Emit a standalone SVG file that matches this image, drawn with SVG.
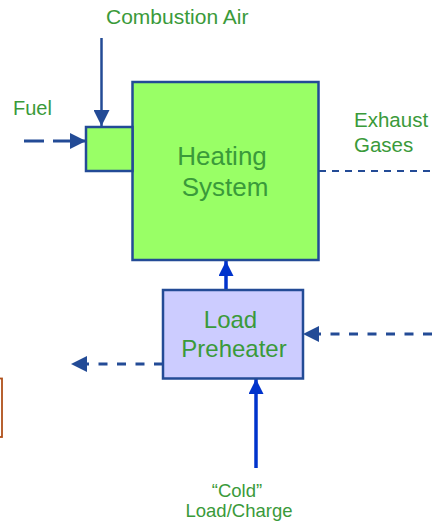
<svg xmlns="http://www.w3.org/2000/svg" width="432" height="523" viewBox="0 0 432 523">
<style>
.lbl{font-family:"Liberation Sans",Arial,sans-serif;fill:#3A9A3A;}
.node{stroke:#234B96;stroke-width:2.5;}
.dash{stroke:#234B96;fill:none;}
.solid{stroke:#234B96;fill:none;stroke-width:2.5;}
.hot{stroke:#0033CC;fill:none;stroke-width:3.5;}
</style>
<defs>
<marker id="ahd" viewBox="0 0 16 16" refX="16" refY="8" markerWidth="16" markerHeight="16" markerUnits="userSpaceOnUse" orient="auto">
<path d="M0,0 L16,8 L0,16 Z" fill="#234B96"/>
</marker>
<marker id="ahb" viewBox="0 0 16 16" refX="16" refY="8" markerWidth="16" markerHeight="15" markerUnits="userSpaceOnUse" orient="auto">
<path d="M0,0 L16,8 L0,16 Z" fill="#0033CC"/>
</marker>
</defs>
<rect x="-20" y="378.5" width="22" height="58.5" fill="none" stroke="#B0501A" stroke-width="1.8"/>
<g id="connectors">
<line class="solid" x1="101.5" y1="38" x2="101.5" y2="126" marker-end="url(#ahd)"/>
<line class="dash" x1="24" y1="141" x2="86" y2="141" stroke-width="3" stroke-dasharray="20,9" marker-end="url(#ahd)"/>
<line class="dash" x1="319" y1="171" x2="432" y2="171" stroke-width="2" stroke-dasharray="7,6"/>
<line class="dash" x1="432" y1="334" x2="303" y2="334" stroke-width="3" stroke-dasharray="9,9.5" marker-end="url(#ahd)"/>
<line class="dash" x1="163" y1="364" x2="71" y2="364" stroke-width="3" stroke-dasharray="9,9.5" marker-end="url(#ahd)"/>
<line class="hot" x1="226" y1="290" x2="226" y2="261" marker-end="url(#ahb)"/>
<line class="hot" x1="256" y1="468" x2="256" y2="379" marker-end="url(#ahb)"/>
</g>
<g id="heating-system">
<rect class="node" x="132.5" y="82" width="186" height="178" fill="#99FF66"/>
<text class="lbl" x="222" y="164.5" font-size="26" text-anchor="middle">Heating</text>
<text class="lbl" x="225" y="196" font-size="26" text-anchor="middle">System</text>
</g>
<g id="burner">
<rect class="node" x="86" y="127" width="46.5" height="44" fill="#99FF66"/>
</g>
<g id="load-preheater">
<rect class="node" x="163" y="290" width="140" height="88.5" fill="#CCCCFF"/>
<text class="lbl" x="230.5" y="328" font-size="24" text-anchor="middle">Load</text>
<text class="lbl" x="234" y="357" font-size="24" text-anchor="middle">Preheater</text>
</g>
<g id="labels">
<text class="lbl" x="106" y="24" font-size="21">Combustion Air</text>
<text class="lbl" x="13" y="115" font-size="20">Fuel</text>
<text class="lbl" x="354" y="127" font-size="20.5">Exhaust</text>
<text class="lbl" x="354" y="152" font-size="20.5">Gases</text>
<text class="lbl" x="237" y="497" font-size="18.5" text-anchor="middle">“Cold”</text>
<text class="lbl" x="239" y="517" font-size="18.5" text-anchor="middle">Load/Charge</text>
</g>
</svg>
